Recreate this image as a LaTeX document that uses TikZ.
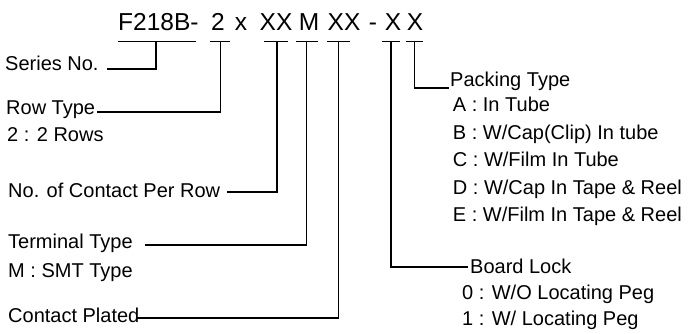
\documentclass[tikz,border=0pt]{standalone}
\usepackage{fontspec}
\setmainfont{Liberation Sans}
\begin{document}
\begin{tikzpicture}[x=1pt,y=-1pt,
  lbl/.style={anchor=base west,inner sep=0pt,font=\fontsize{20}{24}\selectfont},
  ttl/.style={anchor=base,inner sep=0pt,font=\fontsize{24.5}{29}\selectfont},
  conn/.style={line width=1.4pt,line cap=rect}]
\useasboundingbox (0,0) rectangle (689,334);
% title pieces
\node[ttl,anchor=base west] (tF) at (118,31) {F218B-};
\node[ttl] (t2) at (218,31) {2};
\node[ttl] (tx) at (241,31) {x};
\node[ttl] (tXX1) at (276,31) {XX};
\node[ttl] (tM) at (309,31) {M};
\node[ttl] (tXX2) at (344,31) {XX};
\node[ttl] (tdash) at (373,31) {-};
\node[ttl] (tX1) at (393,31) {X};
\node[ttl] (tX2) at (415,31) {X};
% underline bars
\draw[conn] (119,41.7) -- (195,41.7);
\draw[conn] (211,41.7) -- (229,41.7);
\draw[conn] (265,41.7) -- (287,41.7);
\draw[conn] (297,41.7) -- (317,41.7);
\draw[conn] (328,41.7) -- (349,41.7);
\draw[conn] (383,41.7) -- (399,41.7);
\draw[conn] (407,41.7) -- (422,41.7);
\coordinate (bF) at (156,41.7);
\coordinate (b2) at (220.5,41.7);
\coordinate (bXX1) at (277,41.7);
\coordinate (bM) at (306.5,41.7);
\coordinate (bXX2) at (338.5,41.7);
\coordinate (bX1) at (391,41.7);
\coordinate (bX2) at (414.5,41.7);
% left labels
\node[lbl] (series) at (5,71) {Series No.};
\node[lbl] (row) at (6,115) {Row Type};
\node[lbl] (rows2) at (7,142) {2 : 2 Rows};
\node[lbl] (contact) at (8,198) {No. of Contact Per Row};
\node[lbl] (term) at (8,248) {Terminal Type};
\node[lbl] (smt) at (8,277) {M : SMT Type};
\node[lbl] (plated) at (8,323) {Contact Plated};
% right labels
\node[lbl] (pack) at (450,87) {Packing Type};
\node[lbl] (pA) at (452.7,112) {A : In Tube};
\node[lbl] (pB) at (452.7,139.5) {B : W/Cap(Clip) In tube};
\node[lbl] (pC) at (452.7,167) {C : W/Film In Tube};
\node[lbl] (pD) at (452.7,194.5) {D : W/Cap In Tape \& Reel};
\node[lbl] (pE) at (452.7,222) {E : W/Film In Tape \& Reel};
\node[lbl] (board) at (470,273) {Board Lock};
\node[lbl] (b0) at (462,299) {0 : W/O Locating Peg};
\node[lbl] (b1) at (462,325) {1 : W/ Locating Peg};
% connector ends
\coordinate (eSeries) at (108,69);
\coordinate (eRow) at (98,112);
\coordinate (eContact) at (228,192);
\coordinate (eTerm) at (146,245);
\coordinate (ePlated) at (138,318);
\coordinate (ePack) at (448,88);
\coordinate (eBoard) at (467,267);
% connectors
\draw[conn] (eSeries) -| (bF);
\draw[conn] (eRow) -| (b2);
\draw[conn] (eContact) -| (bXX1);
\draw[conn] (eTerm) -| (bM);
\draw[conn] (ePlated) -| (bXX2);
\draw[conn] (bX1) |- (eBoard);
\draw[conn] (bX2) |- (ePack);
\end{tikzpicture}
\end{document}
